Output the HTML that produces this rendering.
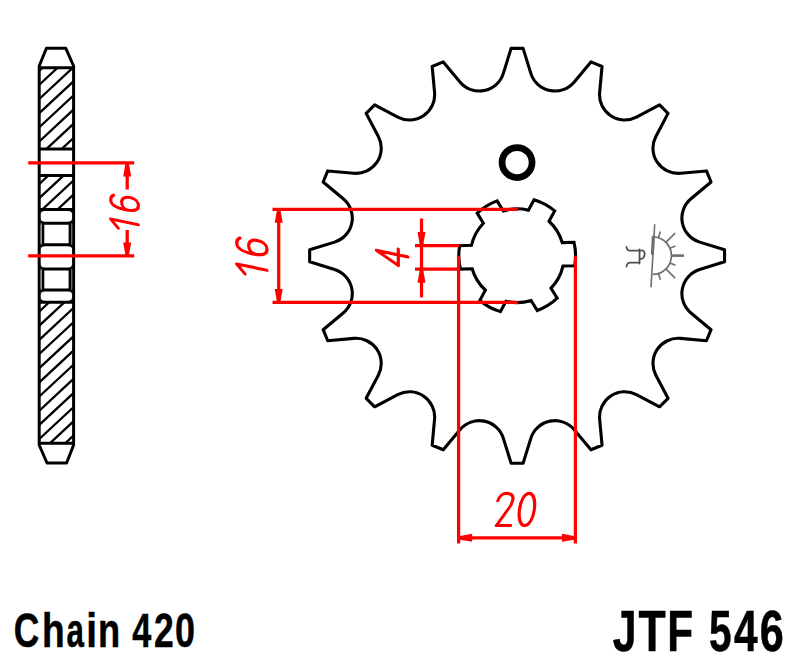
<!DOCTYPE html>
<html><head><meta charset="utf-8"><style>html,body{margin:0;padding:0;background:#fff;overflow:hidden}svg{display:block}text{font-family:"Liberation Sans",sans-serif}</style></head>
<body><svg width="800" height="666" viewBox="0 0 800 666">
<rect width="800" height="666" fill="#fff"/>
<clipPath id="hc"><rect x="39.2" y="67.8" width="34.39999999999999" height="81.2"/><rect x="39.2" y="175.6" width="34.39999999999999" height="33.80000000000001"/><rect x="39.2" y="302.2" width="34.39999999999999" height="141.0"/></clipPath><path clip-path="url(#hc)" d="M37.2,-40.82 L75.6,-76.53 M37.2,-26.65 L75.6,-62.36 M37.2,-12.48 L75.6,-48.19 M37.2,1.69 L75.6,-34.02 M37.2,15.86 L75.6,-19.85 M37.2,30.03 L75.6,-5.68 M37.2,44.20 L75.6,8.49 M37.2,58.37 L75.6,22.66 M37.2,72.54 L75.6,36.83 M37.2,86.71 L75.6,51.00 M37.2,100.88 L75.6,65.17 M37.2,115.05 L75.6,79.34 M37.2,129.22 L75.6,93.51 M37.2,143.39 L75.6,107.68 M37.2,157.56 L75.6,121.85 M37.2,171.73 L75.6,136.02 M37.2,185.90 L75.6,150.19 M37.2,200.07 L75.6,164.36 M37.2,214.24 L75.6,178.53 M37.2,228.41 L75.6,192.70 M37.2,242.58 L75.6,206.87 M37.2,256.75 L75.6,221.04 M37.2,270.92 L75.6,235.21 M37.2,285.09 L75.6,249.38 M37.2,299.26 L75.6,263.55 M37.2,313.43 L75.6,277.72 M37.2,327.60 L75.6,291.89 M37.2,341.77 L75.6,306.06 M37.2,355.94 L75.6,320.23 M37.2,370.11 L75.6,334.40 M37.2,384.28 L75.6,348.57 M37.2,398.45 L75.6,362.74 M37.2,412.62 L75.6,376.91 M37.2,426.79 L75.6,391.08 M37.2,440.96 L75.6,405.25 M37.2,455.13 L75.6,419.42 M37.2,469.30 L75.6,433.59 M37.2,483.47 L75.6,447.76 M37.2,497.64 L75.6,461.93 M37.2,511.81 L75.6,476.10 M37.2,525.98 L75.6,490.27 M37.2,540.15 L75.6,504.44 M37.2,554.32 L75.6,518.61 M37.2,568.49 L75.6,532.78 M37.2,582.66 L75.6,546.95 M37.2,596.83 L75.6,561.12 M37.2,611.00 L75.6,575.29 M37.2,625.17 L75.6,589.46 M37.2,639.34 L75.6,603.63 M37.2,653.51 L75.6,617.80" stroke="#000" stroke-width="2.3" fill="none"/><path d="M39.2,66.0 L46.4,48.3 L65.8,48.3 L73.6,66.0 L73.6,445.0 L66.6,463.0 L47.0,463.0 L39.2,445.0 Z" fill="none" stroke="#000" stroke-width="3" stroke-linejoin="round"/><line x1="39.2" y1="67.8" x2="73.6" y2="67.8" stroke="#000" stroke-width="3"/><line x1="39.2" y1="149.0" x2="73.6" y2="149.0" stroke="#000" stroke-width="3"/><line x1="39.2" y1="175.6" x2="73.6" y2="175.6" stroke="#000" stroke-width="3"/><line x1="39.2" y1="209.4" x2="73.6" y2="209.4" stroke="#000" stroke-width="3"/><line x1="39.2" y1="223.2" x2="73.6" y2="223.2" stroke="#000" stroke-width="3"/><line x1="39.2" y1="244.7" x2="73.6" y2="244.7" stroke="#000" stroke-width="3"/><line x1="39.2" y1="268.9" x2="73.6" y2="268.9" stroke="#000" stroke-width="3"/><line x1="39.2" y1="290.0" x2="73.6" y2="290.0" stroke="#000" stroke-width="3"/><line x1="39.2" y1="302.2" x2="73.6" y2="302.2" stroke="#000" stroke-width="3"/><line x1="39.2" y1="443.2" x2="73.6" y2="443.2" stroke="#000" stroke-width="3"/><line x1="43.1" y1="223.2" x2="43.1" y2="244.7" stroke="#000" stroke-width="2.4"/><line x1="69.8" y1="223.2" x2="69.8" y2="244.7" stroke="#000" stroke-width="2.4"/><line x1="43.1" y1="268.9" x2="43.1" y2="290.0" stroke="#000" stroke-width="2.4"/><line x1="69.8" y1="268.9" x2="69.8" y2="290.0" stroke="#000" stroke-width="2.4"/><rect x="40.6" y="223.2" width="1.3" height="21.5" fill="#8a8a8a"/><rect x="71.0" y="223.2" width="1.2" height="21.5" fill="#6a6a6a"/><rect x="40.6" y="268.9" width="1.3" height="21.100000000000023" fill="#8a8a8a"/><rect x="71.0" y="268.9" width="1.2" height="21.100000000000023" fill="#6a6a6a"/><path d="M40.40,210.60 L44.30,210.60 L44.30,210.90 A3.6,3.6 0 0 0 40.70,214.50 L40.40,214.50 Z" fill="#000"/><path d="M40.40,222.00 L44.30,222.00 L44.30,221.70 A3.6,3.6 0 0 1 40.70,218.10 L40.40,218.10 Z" fill="#000"/><path d="M72.40,210.60 L68.50,210.60 L68.50,210.90 A3.6,3.6 0 0 1 72.10,214.50 L72.40,214.50 Z" fill="#000"/><path d="M72.40,222.00 L68.50,222.00 L68.50,221.70 A3.6,3.6 0 0 0 72.10,218.10 L72.40,218.10 Z" fill="#000"/><path d="M40.40,245.90 L44.30,245.90 L44.30,246.20 A3.6,3.6 0 0 0 40.70,249.80 L40.40,249.80 Z" fill="#000"/><path d="M40.40,267.70 L44.30,267.70 L44.30,267.40 A3.6,3.6 0 0 1 40.70,263.80 L40.40,263.80 Z" fill="#000"/><path d="M72.40,245.90 L68.50,245.90 L68.50,246.20 A3.6,3.6 0 0 1 72.10,249.80 L72.40,249.80 Z" fill="#000"/><path d="M72.40,267.70 L68.50,267.70 L68.50,267.40 A3.6,3.6 0 0 0 72.10,263.80 L72.40,263.80 Z" fill="#000"/><path d="M40.40,291.20 L44.30,291.20 L44.30,291.50 A3.6,3.6 0 0 0 40.70,295.10 L40.40,295.10 Z" fill="#000"/><path d="M40.40,301.00 L44.30,301.00 L44.30,300.70 A3.6,3.6 0 0 1 40.70,297.10 L40.40,297.10 Z" fill="#000"/><path d="M72.40,291.20 L68.50,291.20 L68.50,291.50 A3.6,3.6 0 0 1 72.10,295.10 L72.40,295.10 Z" fill="#000"/><path d="M72.40,301.00 L68.50,301.00 L68.50,300.70 A3.6,3.6 0 0 0 72.10,297.10 L72.40,297.10 Z" fill="#000"/>
<path d="M511.10,48.40 L523.10,48.40 L530.84,73.34 A25.18,25.18 0 0 0 574.25,81.97 L590.94,61.90 L602.03,66.49 L599.64,92.49 A25.18,25.18 0 0 0 636.44,117.08 L659.55,104.92 L668.03,113.40 L655.87,136.51 A25.18,25.18 0 0 0 680.46,173.31 L706.46,170.92 L711.05,182.01 L690.98,198.70 A25.18,25.18 0 0 0 699.61,242.11 L724.55,249.85 L724.55,261.85 L699.61,269.59 A25.18,25.18 0 0 0 690.98,313.00 L711.05,329.69 L706.46,340.78 L680.46,338.39 A25.18,25.18 0 0 0 655.87,375.19 L668.03,398.30 L659.55,406.78 L636.44,394.62 A25.18,25.18 0 0 0 599.64,419.21 L602.03,445.21 L590.94,449.80 L574.25,429.73 A25.18,25.18 0 0 0 530.84,438.36 L523.10,463.30 L511.10,463.30 L503.36,438.36 A25.18,25.18 0 0 0 459.95,429.73 L443.26,449.80 L432.17,445.21 L434.56,419.21 A25.18,25.18 0 0 0 397.76,394.62 L374.65,406.78 L366.17,398.30 L378.33,375.19 A25.18,25.18 0 0 0 353.74,338.39 L327.74,340.78 L323.15,329.69 L343.22,313.00 A25.18,25.18 0 0 0 334.59,269.59 L309.65,261.85 L309.65,249.85 L334.59,242.11 A25.18,25.18 0 0 0 343.22,198.70 L323.15,182.01 L327.74,170.92 L353.74,173.31 A25.18,25.18 0 0 0 378.33,136.51 L366.17,113.40 L374.65,104.92 L397.76,117.08 A25.18,25.18 0 0 0 434.56,92.49 L432.17,66.49 L443.26,61.90 L459.95,81.97 A25.18,25.18 0 0 0 503.36,73.34 L511.10,48.40 Z" fill="none" stroke="#000" stroke-width="3.1" stroke-linejoin="round"/>
<path d="M562.25,242.66 L574.04,242.31 A58.4,58.4 0 0 1 574.74,265.70 L562.94,266.05 A46.9,46.9 0 0 1 551.02,288.19 L557.22,298.23 A58.4,58.4 0 0 1 537.31,310.53 L531.11,300.49 A46.9,46.9 0 0 1 505.97,301.24 L500.38,311.62 A58.4,58.4 0 0 1 479.77,300.53 L485.37,290.14 A46.9,46.9 0 0 1 472.15,268.74 L460.36,269.09 A58.4,58.4 0 0 1 459.66,245.70 L471.46,245.35 A46.9,46.9 0 0 1 483.38,223.21 L477.18,213.17 A58.4,58.4 0 0 1 497.09,200.87 L503.29,210.91 A46.9,46.9 0 0 1 528.43,210.16 L534.02,199.78 A58.4,58.4 0 0 1 554.63,210.87 L549.03,221.26 A46.9,46.9 0 0 1 562.25,242.66 Z" fill="none" stroke="#000" stroke-width="3.1" stroke-linejoin="miter"/>
<circle cx="517.05" cy="162.6" r="15.0" fill="none" stroke="#000" stroke-width="6.7"/>
<line x1="654.7" y1="224.2" x2="651.0" y2="287.3" stroke="#6e6e6e" stroke-width="1.6"/><line x1="653.3" y1="235.8" x2="652.4" y2="254.7" stroke="#6e6e6e" stroke-width="3"/><path d="M654.10,236.86 A18.8,18.8 0 0 1 652.80,274.40" fill="none" stroke="#6e6e6e" stroke-width="1.7"/><line x1="658.41" y1="237.72" x2="660.42" y2="231.54" stroke="#6e6e6e" stroke-width="1.6"/><line x1="665.89" y1="242.31" x2="675.09" y2="233.11" stroke="#6e6e6e" stroke-width="1.6"/><line x1="669.91" y1="248.25" x2="675.43" y2="245.91" stroke="#6e6e6e" stroke-width="1.6"/><line x1="671.40" y1="255.60" x2="684.00" y2="255.60" stroke="#6e6e6e" stroke-width="2.6"/><line x1="669.91" y1="262.95" x2="675.43" y2="265.29" stroke="#6e6e6e" stroke-width="1.6"/><line x1="665.89" y1="268.89" x2="675.09" y2="278.09" stroke="#6e6e6e" stroke-width="1.6"/><line x1="658.41" y1="273.48" x2="660.42" y2="279.66" stroke="#6e6e6e" stroke-width="1.6"/><path d="M626.5,246.8 C627,250 628,250.7 630,250.7 L639.5,250.7 M626.5,266.6 C627,263.5 628,262.6 630,262.6 L639.5,262.6 M639.5,249.5 L639.5,263.5 M639.5,251 C644,249 646,253 643.5,257.5 C642,259.5 640.5,259 639.5,258" fill="none" stroke="#505050" stroke-width="1.8" stroke-linecap="round"/>
<g stroke="#ff0000" stroke-width="3.25" stroke-linecap="butt"><line x1="28.2" y1="162.9" x2="134.2" y2="162.9"/><line x1="28.2" y1="255.9" x2="134.2" y2="255.9"/><line x1="127.2" y1="162.9" x2="127.2" y2="189.5"/><line x1="127.2" y1="230.0" x2="127.2" y2="255.9"/><line x1="272.5" y1="209.3" x2="518.0" y2="209.3"/><line x1="272.5" y1="302.4" x2="518.0" y2="302.4"/><line x1="278.7" y1="209.3" x2="278.7" y2="302.4"/><line x1="415.0" y1="245.6" x2="459.0" y2="245.6"/><line x1="415.0" y1="269.2" x2="459.0" y2="269.2"/><line x1="421.5" y1="218.5" x2="421.5" y2="297.3"/><line x1="458.6" y1="255.7" x2="458.6" y2="543.5"/><line x1="575.4" y1="255.7" x2="575.4" y2="543.5"/><line x1="458.6" y1="537.8" x2="575.4" y2="537.8"/></g><path d="M128.80,162.90 L131.20,176.40 L123.20,176.40 L125.60,162.90 Z" fill="#ff0000"/><path d="M125.60,255.90 L123.20,242.40 L131.20,242.40 L128.80,255.90 Z" fill="#ff0000"/><path d="M280.30,209.30 L282.70,222.80 L274.70,222.80 L277.10,209.30 Z" fill="#ff0000"/><path d="M277.10,302.40 L274.70,288.90 L282.70,288.90 L280.30,302.40 Z" fill="#ff0000"/><path d="M419.90,245.60 L417.50,232.10 L425.50,232.10 L423.10,245.60 Z" fill="#ff0000"/><path d="M423.10,269.20 L425.50,282.70 L417.50,282.70 L419.90,269.20 Z" fill="#ff0000"/><path d="M458.60,536.20 L472.10,533.80 L472.10,541.80 L458.60,539.40 Z" fill="#ff0000"/><path d="M575.40,539.40 L561.90,541.80 L561.90,533.80 L575.40,536.20 Z" fill="#ff0000"/>
<g transform="translate(138.4,230.2) rotate(-90) scale(0.84) skewX(-11.6)" fill="none" stroke="#ff0000" stroke-width="3.69" stroke-linecap="round" stroke-linejoin="round"><path transform="translate(0,0)" d="M-2.5,-24 L6.5,-33 L6.5,0"/><path transform="translate(20.8,0)" d="M14.8,-29.5 C13.5,-32 11,-33 8.5,-33 C3,-33 0.3,-27 0.3,-16 C0.3,-5 3.3,0 8.3,0 C13,0 16,-4 16,-10 C16,-16 13,-20 8.3,-20 C4,-20 0.8,-17 0.5,-12"/></g>
<g transform="translate(267.0,276.2) rotate(-90) scale(0.918) skewX(-11.6)" fill="none" stroke="#ff0000" stroke-width="3.49" stroke-linecap="round" stroke-linejoin="round"><path transform="translate(0,0)" d="M-2.5,-24 L6.5,-33 L6.5,0"/><path transform="translate(20.8,0)" d="M14.8,-29.5 C13.5,-32 11,-33 8.5,-33 C3,-33 0.3,-27 0.3,-16 C0.3,-5 3.3,0 8.3,0 C13,0 16,-4 16,-10 C16,-16 13,-20 8.3,-20 C4,-20 0.8,-17 0.5,-12"/></g>
<g transform="translate(407.8,268.9) rotate(-90) scale(0.95) skewX(-11.6)" fill="none" stroke="#ff0000" stroke-width="3.37" stroke-linecap="round" stroke-linejoin="round"><path transform="translate(0,0)" d="M12.7,0 L12.7,-33 L1.5,-10 L18.7,-10"/></g>
<g transform="translate(497.0,525.5) rotate(0) scale(0.975) skewX(-11.6)" fill="none" stroke="#ff0000" stroke-width="3.28" stroke-linecap="round" stroke-linejoin="round"><path transform="translate(0,0)" d="M-4.3,-25.5 C-3.8,-30.5 -0.5,-33 3,-33 C7.5,-33 10.8,-30.5 10.8,-26.5 C10.8,-22.5 10,-19.8 8.3,-17.3 L-0.6,0 L13.9,0"/><path transform="translate(19.3,0) skewX(4)" d="M9.15,-33 C13.7,-33 16.75,-26 16.75,-16.5 C16.75,-7 13.7,0 9.15,0 C4.6,0 1.55,-7 1.55,-16.5 C1.55,-26 4.6,-33 9.15,-33 Z"/></g>
<text transform="translate(13.75,646.7) scale(0.7361,1)" font-family="Liberation Sans" font-weight="bold" font-size="48" stroke="#000" stroke-width="0.5">C</text><text transform="translate(41.91,646.7) scale(0.7742,1)" font-family="Liberation Sans" font-weight="bold" font-size="48" stroke="#000" stroke-width="0.5">h</text><text transform="translate(66.58,646.7) scale(0.6525,1)" font-family="Liberation Sans" font-weight="bold" font-size="48" stroke="#000" stroke-width="0.5">a</text><text transform="translate(86.30,646.7) scale(0.8047,1)" font-family="Liberation Sans" font-weight="bold" font-size="48" stroke="#000" stroke-width="0.5">i</text><text transform="translate(98.01,646.7) scale(0.7550,1)" font-family="Liberation Sans" font-weight="bold" font-size="48" stroke="#000" stroke-width="0.5">n</text><text transform="translate(132.18,646.7) scale(0.7137,1)" font-family="Liberation Sans" font-weight="bold" font-size="48" stroke="#000" stroke-width="0.5">4</text><text transform="translate(153.97,646.7) scale(0.7400,1)" font-family="Liberation Sans" font-weight="bold" font-size="48" stroke="#000" stroke-width="0.5">2</text><text transform="translate(175.03,646.7) scale(0.7491,1)" font-family="Liberation Sans" font-weight="bold" font-size="48" stroke="#000" stroke-width="0.5">0</text><text transform="translate(612.65,650.8) scale(0.7516,1)" font-family="Liberation Sans" font-weight="bold" font-size="57" stroke="#000" stroke-width="0.5">J</text><text transform="translate(638.40,650.8) scale(0.7806,1)" font-family="Liberation Sans" font-weight="bold" font-size="57" stroke="#000" stroke-width="0.5">T</text><text transform="translate(667.37,650.8) scale(0.7435,1)" font-family="Liberation Sans" font-weight="bold" font-size="57" stroke="#000" stroke-width="0.5">F</text><text transform="translate(708.95,650.8) scale(0.7122,1)" font-family="Liberation Sans" font-weight="bold" font-size="57" stroke="#000" stroke-width="0.5">5</text><text transform="translate(733.96,650.8) scale(0.7435,1)" font-family="Liberation Sans" font-weight="bold" font-size="57" stroke="#000" stroke-width="0.5">4</text><text transform="translate(759.87,650.8) scale(0.7567,1)" font-family="Liberation Sans" font-weight="bold" font-size="57" stroke="#000" stroke-width="0.5">6</text>
</svg></body></html>
